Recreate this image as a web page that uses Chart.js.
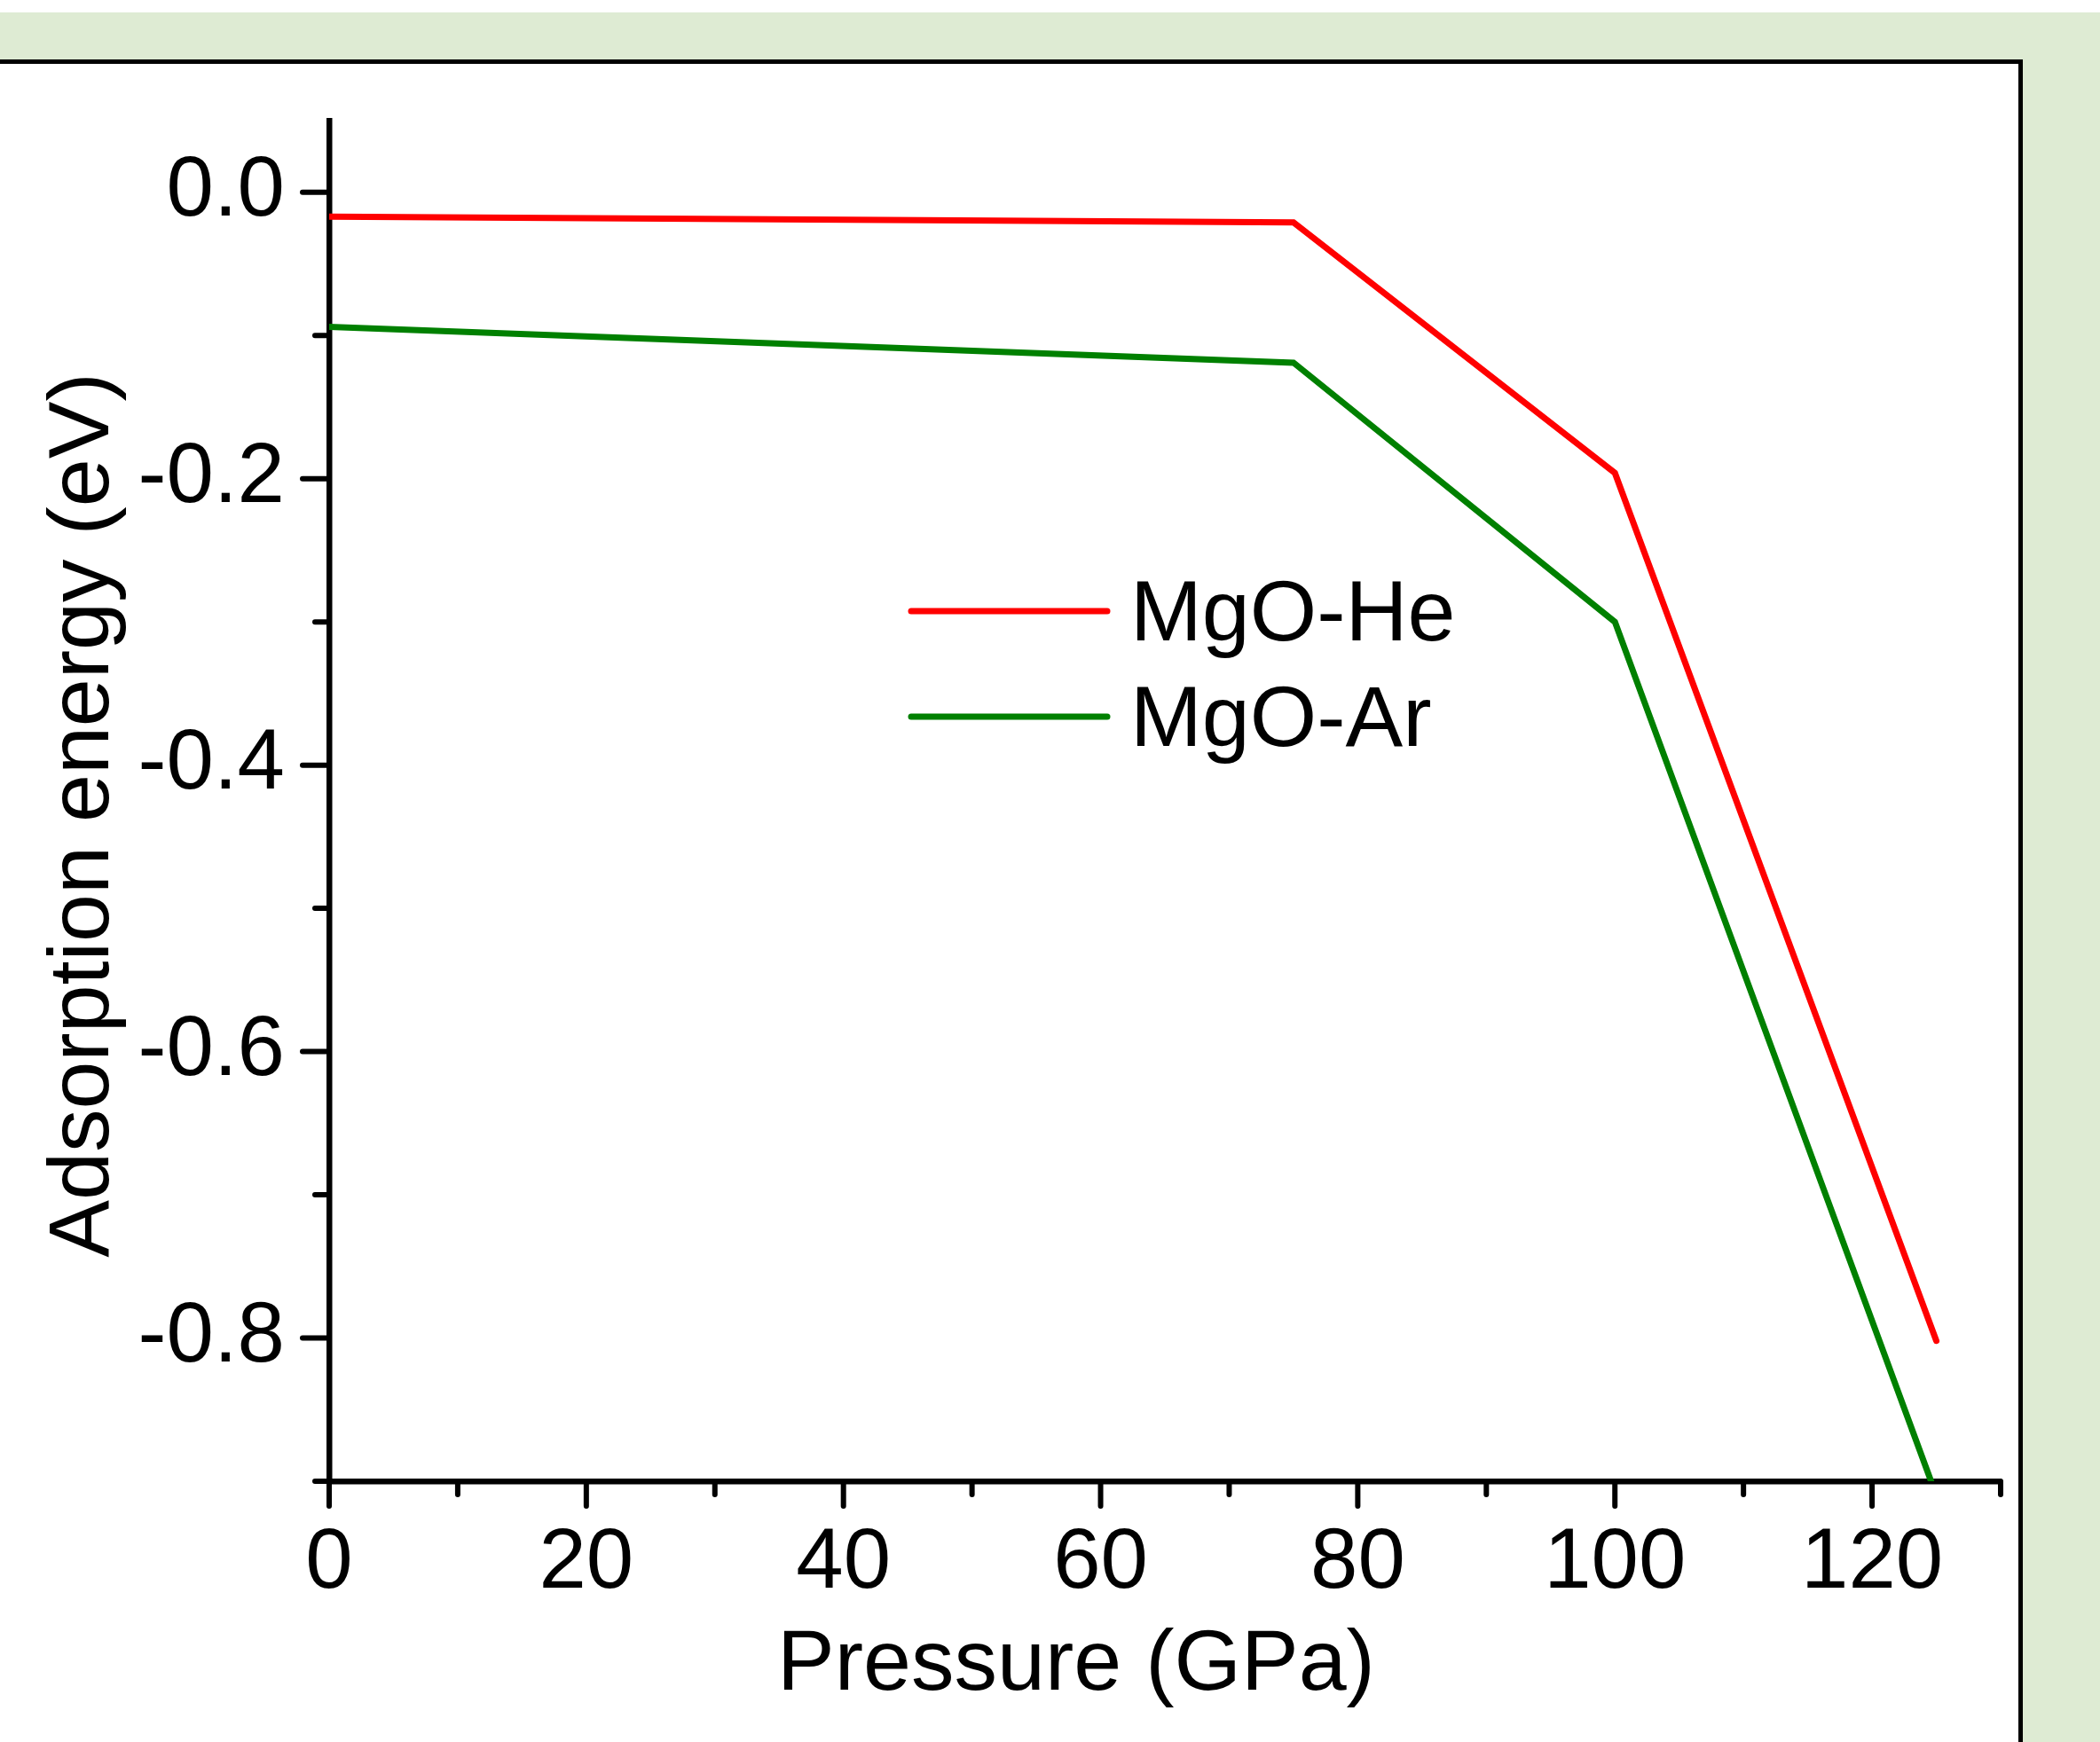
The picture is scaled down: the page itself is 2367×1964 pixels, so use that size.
<!DOCTYPE html>
<html>
<head>
<meta charset="utf-8">
<script src="https://cdn.jsdelivr.net/npm/chart.js@4/dist/chart.umd.min.js"></script>
<style>
  html, body { margin: 0; padding: 0; width: 2367px; height: 1964px; overflow: hidden; background: #ffffff; }
  #bg { position: absolute; left: 0; top: 14px; width: 2367px; height: 1950px; background: rgb(222,235,211); }
  #panel { position: absolute; left: -20px; top: 67px; width: 2300px; height: 2000px; background: #ffffff; border: 5px solid #000; box-sizing: border-box; }
  #wrap { position: absolute; left: 0; top: 0; width: 2367px; height: 1964px; }
</style>
</head>
<body>
<div id="bg"></div>
<div id="panel"></div>
<div id="wrap"><canvas id="c"></canvas></div>
<script>
// ---- data ----
const pressure = [0, 75, 100, 125];               // GPa
const mgoHe    = [-0.017, -0.021, -0.196, -0.802]; // eV
const mgoAr    = [-0.094, -0.119, -0.300, -0.910]; // eV
const seriesNames = ['MgO-He', 'MgO-Ar'];
const xTickValues = [0, 10, 20, 30, 40, 50, 60, 70, 80, 90, 100, 110, 120, 130];
const yTickValues = [-0.9, -0.8, -0.7, -0.6, -0.5, -0.4, -0.3, -0.2, -0.1, 0.0];
const xTitle = 'Pressure (GPa)';
const yTitle = 'Adsorption energy (eV)';

const FONT = "'Liberation Sans', Arial, sans-serif";

const toPts = (xs, ys) => xs.map((x, i) => ({ x: x, y: ys[i] }));

// tick marks (major + minor) drawn through the scales
const tickMarks = {
  id: 'tickMarks',
  afterDraw(chart) {
    const ctx = chart.ctx, xs = chart.scales.x, ys = chart.scales.y;
    const ca = chart.chartArea;
    ctx.save();
    ctx.strokeStyle = '#000';
    ctx.lineWidth = 6;
    ctx.lineCap = 'round';
    xTickValues.forEach(v => {
      const px = xs.getPixelForValue(v);
      const len = (v % 20 === 0) ? 28 : 15;
      ctx.beginPath(); ctx.moveTo(px, ca.bottom); ctx.lineTo(px, ca.bottom + len); ctx.stroke();
    });
    yTickValues.forEach(v => {
      const py = ys.getPixelForValue(v);
      const major = Math.round(Math.abs(v) * 10) % 2 === 0;
      const len = major ? 30 : 16;
      ctx.beginPath(); ctx.moveTo(ca.left, py); ctx.lineTo(ca.left - len, py); ctx.stroke();
    });
    ctx.restore();
  }
};

// axis titles + legend
const annotations = {
  id: 'annotations',
  afterDraw(chart, args, opts) {
    const ctx = chart.ctx;
    ctx.save();
    ctx.fillStyle = '#000';
    ctx.font = '97px ' + FONT;
    ctx.textAlign = 'center';
    ctx.textBaseline = 'alphabetic';
    ctx.fillText(xTitle, opts.xTitleX, opts.xTitleY);
    ctx.save();
    ctx.translate(opts.yTitleX, opts.yTitleY);
    ctx.rotate(-Math.PI / 2);
    ctx.fillText(yTitle, 0, 0);
    ctx.restore();
    // legend
    chart.data.datasets.forEach((ds, i) => {
      const ly = opts.legendY + i * opts.legendGap;
      ctx.strokeStyle = ds.borderColor;
      ctx.lineWidth = 7;
      ctx.lineCap = 'round';
      ctx.beginPath(); ctx.moveTo(opts.legendX1, ly); ctx.lineTo(opts.legendX2, ly); ctx.stroke();
      ctx.textAlign = 'left';
      ctx.fillStyle = '#000';
      ctx.fillText(ds.label, opts.legendTextX, ly + 33);
    });
    ctx.restore();
  }
};

new Chart(document.getElementById('c'), {
  type: 'line',
  data: {
    datasets: [
      { label: seriesNames[0], data: toPts(pressure, mgoHe), borderColor: '#ff0000', borderWidth: 7, pointRadius: 0, tension: 0, borderCapStyle: 'round', borderJoinStyle: 'miter', fill: false },
      { label: seriesNames[1], data: toPts(pressure, mgoAr), borderColor: '#008000', borderWidth: 7, pointRadius: 0, tension: 0, borderCapStyle: 'round', borderJoinStyle: 'miter', fill: false }
    ]
  },
  options: {
    responsive: true,
    maintainAspectRatio: false,
    animation: false,
    devicePixelRatio: 1,
    layout: { padding: { top: 136, right: 112, bottom: 0, left: 0 } },
    plugins: {
      legend: { display: false },
      tooltip: { enabled: false },
      annotations: {
        xTitleX: 1213, xTitleY: 1905,
        yTitleX: 122, yTitleY: 919,
        legendX1: 1027, legendX2: 1248, legendY: 689, legendGap: 119, legendTextX: 1274
      }
    },
    scales: {
      x: {
        type: 'linear',
        min: 0, max: 130,
        afterFit(s) { s.height = 294; },
        afterBuildTicks(s) { s.ticks = xTickValues.map(v => ({ value: v })); },
        border: { display: true, color: '#000', width: 6.5 },
        grid: { display: true, drawOnChartArea: false, drawTicks: false, color: 'rgba(0,0,0,0)' },
        ticks: {
          autoSkip: false, maxRotation: 0, padding: 36,
          color: '#000', font: { family: FONT, size: 96 },
          callback: v => (Math.round(v) % 20 === 0 ? String(Math.round(v)) : '')
        },
        title: { display: false }
      },
      y: {
        type: 'linear',
        min: -0.9, max: 0.05,
        afterFit(s) { s.width = 371; },
        afterBuildTicks(s) { s.ticks = yTickValues.map(v => ({ value: v })); },
        border: { display: true, color: '#000', width: 6.5 },
        grid: { display: true, drawOnChartArea: false, drawTicks: false, color: 'rgba(0,0,0,0)' },
        ticks: {
          autoSkip: false, padding: 50,
          color: '#000', font: { family: FONT, size: 96 },
          callback: v => {
            const r = Math.round(v * 10);
            if (r % 2 !== 0) return '';
            return (r / 10).toFixed(1);
          }
        },
        title: { display: false }
      }
    }
  },
  plugins: [tickMarks, annotations]
});
</script>
</body>
</html>
